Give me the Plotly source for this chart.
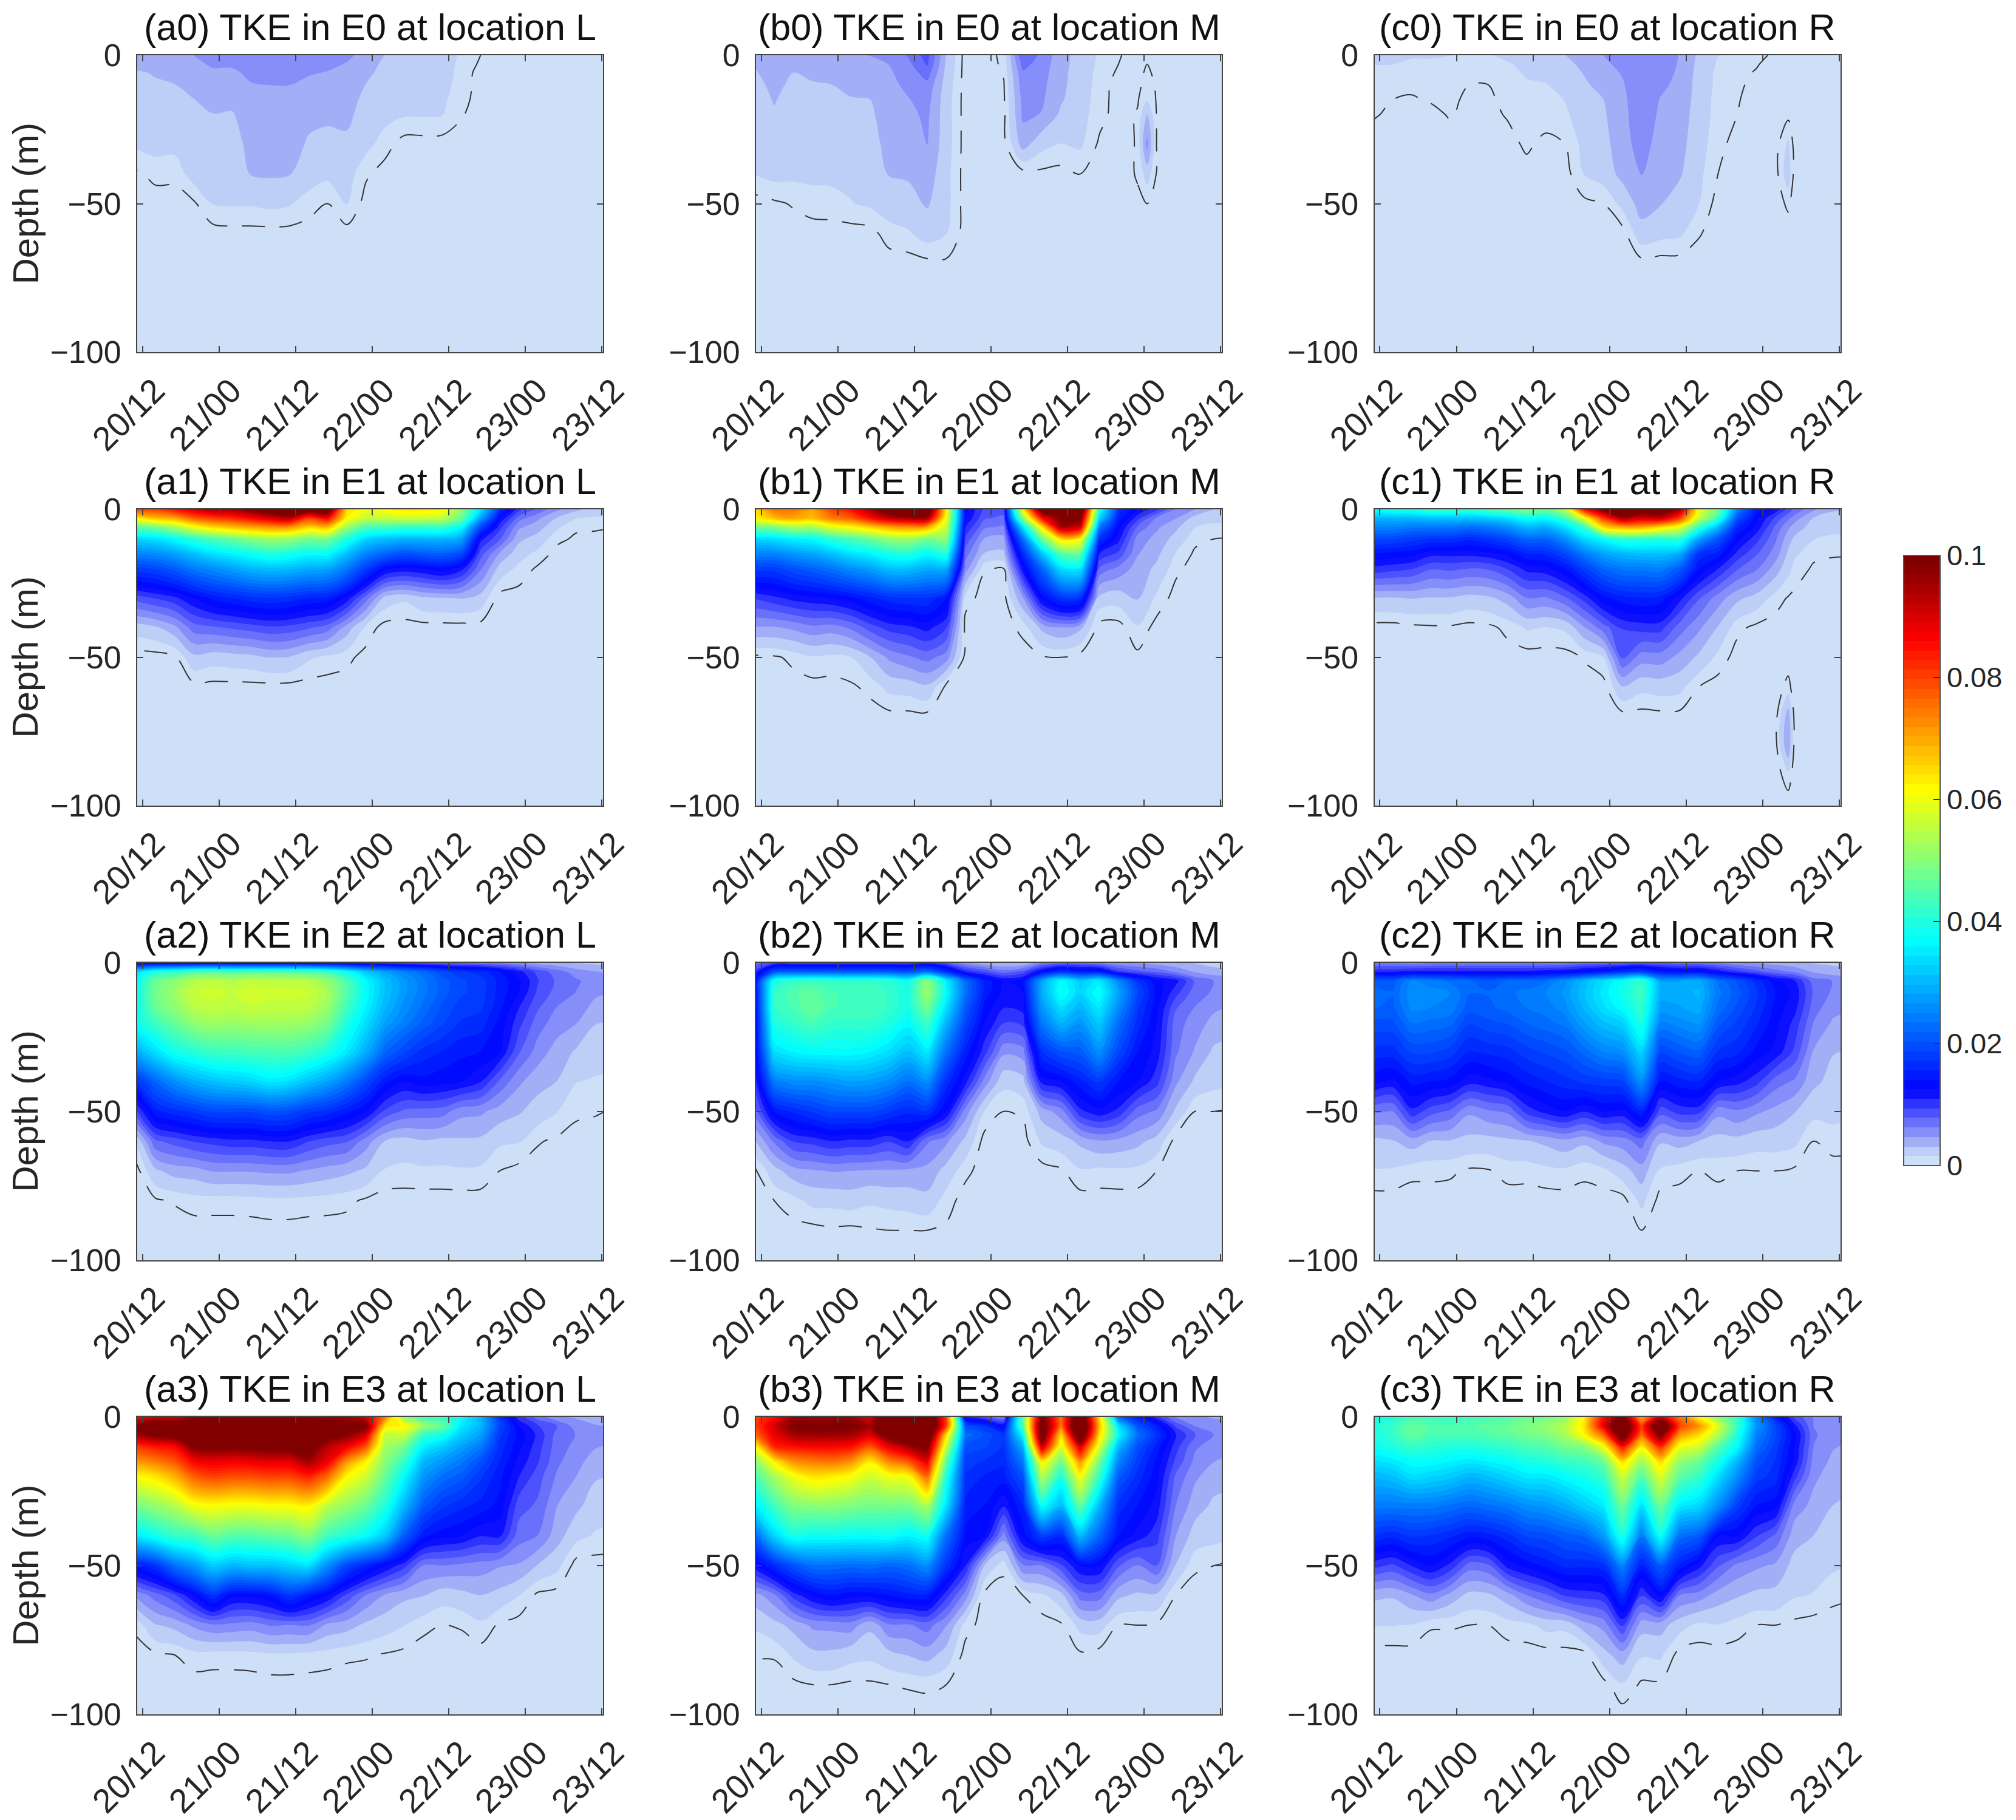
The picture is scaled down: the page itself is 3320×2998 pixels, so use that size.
import plotly.graph_objects as go

W, H = 3312, 2990   # the page adds an 8 px margin on the top and left
PAGE_MARGIN = 8
HOURS = [-1, 2, 5, 8, 11, 14, 17, 20, 23, 26, 29, 32, 35, 38, 41, 44, 47, 50, 53, 56, 59, 62, 65, 68, 71, 74]
DEPTHS = [0, -3, -6, -10, -15, -20, -30, -40, -50, -60, -70, -80, -90, -100]
TICK_HOURS = [0, 12, 24, 36, 48, 60, 72]
TICK_LABELS = ["20/12", "21/00", "21/12", "22/00", "22/12", "23/00", "23/12"]
DEPTH_TICKS = [-100, -50, 0]
DEPTH_LABELS = ["\u2212100", "\u221250", "0"]
CBAR_TICKS = [0, 0.02, 0.04, 0.06, 0.08, 0.1]
CBAR_LABELS = ["0", "0.02", "0.04", "0.06", "0.08", "0.1"]
LOW_COLORS = [(205, 224, 247), (175, 192, 246), (150, 160, 247), (122, 130, 250),
              (92, 100, 252), (65, 70, 253), (34, 38, 254), (0, 0, 255)]

# TKE profiles, one list per hour in HOURS, one value per depth in DEPTHS, in 1e-4 units
# (rows left out at the end of a profile are zero)
a0 = [[38,34,30,28,26,24,18,3],[40,36,32,30,28,26,21,8],[42,38,34,31,28,26,20,8],[47,43,39,35,31,28,25,22,3],
[56,49,44,38,34,31,26,21,16],[55,49,44,39,35,30,26,22,17,1],[58,54,50,46,42,39,35,32,17,1],[60,56,52,47,43,41,37,33,19,1],
[60,56,52,47,43,40,36,32,17,1],[58,53,48,44,38,34,30,23,10],[54,50,46,42,38,34,27,19,5],[50,46,43,41,38,35,28,22,17],
[42,38,35,31,27,25,20,7],[31,28,26,24,22,20,10],[28,26,24,22,19,17],[25,24,23,21,19,17],[22,21,21,20,18,16],[14,13,12,11,9,6],[5,3]]
b0 = [[34,32,30,28,26,24,20,16],[44,40,37,34,32,30,24,20,3],[44,38,31,29,27,26,22,19,6],[44,40,34,30,27,25,22,19,10],
[46,42,38,31,28,26,23,19,11],[46,43,40,36,30,27,23,19,15],[47,45,42,38,31,28,24,21,18,1],[52,47,45,43,41,40,37,32,24,10],
[64,58,53,50,46,43,38,33,26,14],[85,80,70,58,53,50,47,40,33,22,2],[30,28,26,24,22,22,22,20,20,16,3],[],[],
[8,7,6,4,3,2],[78,68,60,56,52,50,38],[58,55,53,51,49,46,20,2],[38,37,36,35,33,28,15,1],[24,24,23,23,22,21,18,5],
[14,13,12,11,10,9,3],[6,5,3],[0,0,0,1,4,6,6,6,3],[0,0,1,3,4,4,4,4,3]]
c0 = [[20,16,10,9,8,6],[20,16,9,7,5,3],[18,12,9,7,4,2],[18,12,10,8,6,2],[16,10,9,8,7,6],[14,10,7,5,3,2],[14,10,7,5,3,2],
[20,14,12,10,8,6,1],[24,20,17,14,12,11,7,1],[27,23,19,15,12,10,2],[31,27,24,20,16,13,5],[38,35,32,29,26,24,20,16,2],
[47,43,40,36,31,29,26,22,5],[56,52,48,45,43,42,40,36,20],[62,62,62,60,58,57,54,48,38,25,1],[60,57,54,50,46,44,40,36,32,20],
[46,45,44,43,42,40,37,33,24,18],[28,27,26,25,24,23,21,19,16,6],[16,14,12,12,11,11,9,5],[14,11,8,7,6,5],[8,6,4,2],[3]]
a1 = [[800,625,460,330,250,180,85,22],[800,680,480,340,260,190,95,28],[850,700,530,370,280,210,105,42,3],
[900,770,600,410,310,240,125,70,27,1],[950,800,650,440,340,260,145,75,22,1],[950,820,680,470,360,280,155,80,24,1],
[1000,860,700,500,380,300,165,85,26,1],[1050,900,720,520,400,310,170,90,32,1],[1100,930,720,510,390,305,165,88,30,1],
[1050,800,660,480,370,290,155,80,18],[1050,860,680,480,370,285,150,70,12],[650,620,520,400,310,240,120,40,8],
[600,560,440,330,250,180,70,12,1],[620,560,430,310,220,130,25],[640,570,420,300,200,120,18],[640,560,420,300,210,125,28],
[630,550,420,300,215,135,30],[500,470,370,280,190,115,32],[350,280,190,115,85,65,25],[170,125,100,80,45,25],
[100,70,50,35,22,12],[75,50,38,24,12,3],[50,30,18,8,1],[35,16,7,3],[24,14,6,3],[22,13,5,2]]
b1 = [[650,620,480,330,250,180,95,45,2],[750,680,490,340,250,180,105,45,3],[750,700,530,360,270,200,115,50,8],
[700,680,530,370,285,215,120,58,14,1],[800,740,590,410,310,235,125,55,12,1],[850,770,620,440,340,260,135,65,15,3],
[950,850,660,470,360,280,150,85,30,8],[1050,920,700,510,390,310,165,100,50,20,1],[1100,950,720,520,400,310,170,105,60,22,1],
[1100,950,700,480,370,290,170,115,68,28,1],[620,600,560,500,400,290,140,95,55,1],[130,125,110,90,70,55,10],
[90,80,65,45,30,6],[85,75,60,42,28,5],[620,500,340,230,160,120,45,8],[1050,850,640,470,310,220,130,35,3],
[1150,1000,950,650,450,340,170,45,5],[1100,1000,900,620,460,350,165,35],[400,330,240,170,110,75,25],
[170,150,130,115,90,58,22],[125,100,75,55,48,40,32,14,2],[100,60,50,42,35,28,13],[62,48,35,25,15,8],[47,25,16,8,3],
[31,20,12,5],[31,20,12,5]]
c1 = [[380,300,250,190,140,105,30],[400,300,250,190,135,100,30],[400,300,240,180,130,95,32,2],[430,310,240,170,115,80,30,3],
[430,310,240,170,115,82,30,3],[420,310,230,160,115,78,25,1],[450,320,240,170,120,80,28,2],[470,340,260,190,130,95,38,8],
[500,380,300,220,155,115,62,17],[480,370,290,220,160,120,60,15],[550,430,340,260,190,140,75,18],[850,600,420,330,240,180,100,45,6],
[1000,800,650,370,280,220,135,70,15],[1100,950,700,410,300,240,150,95,80,30],[1050,900,700,410,310,240,155,100,55,20],
[1050,920,650,400,310,245,150,100,55,22,1],[950,800,590,410,290,210,115,70,42,20,1],[600,560,420,280,170,140,80,50,28,5],
[480,420,300,200,150,110,55,30,12],[250,200,160,130,105,80,35,8],[150,130,120,100,80,65,25,2],[120,90,75,65,55,40,10],
[75,55,40,28,18,12,2],[50,30,24,16,8,3],[33,26,20,13,6,2],[33,26,20,13,6,2]]
a2 = [[100,340,370,380,380,380,290,165,90,18],[110,400,470,480,470,430,340,220,150,75,28,3],[110,420,500,520,505,470,385,260,165,85,38,6],
[110,450,540,560,545,510,405,290,175,95,40,10],[110,460,550,570,555,525,425,310,190,100,48,10],[110,450,540,560,550,520,430,320,190,105,48,10],
[110,460,555,575,560,525,435,330,190,105,48,11],[110,460,550,570,555,525,440,350,200,110,50,12,1],[110,460,550,570,555,525,440,340,195,110,50,12,1],
[110,450,545,565,550,515,425,310,175,95,45,11],[105,430,510,530,515,485,395,280,165,85,40,10],[100,380,440,450,430,400,350,240,145,80,35,8],
[95,320,365,370,360,340,290,190,125,55,28,3],[90,280,310,310,300,280,220,145,90,31,14],[85,250,270,270,260,245,190,125,75,25,12],
[80,225,240,240,230,215,165,135,72,30,13],[75,195,210,210,200,190,155,130,70,27,13],[70,175,190,190,180,170,145,125,52,29,14],
[65,165,180,180,175,165,140,110,50,28,13],[60,140,150,150,145,135,125,75,40,18,5],[50,115,128,125,110,100,80,50,33,17,1],
[40,88,95,90,80,70,55,37,24,6],[35,70,75,72,62,55,40,31,16,3],[30,55,65,62,55,48,29,16,7,1],[28,48,55,50,42,32,23,14,6],[25,42,50,46,38,31,21,12,4]]
b2 = [[70,100,130,130,125,120,115,100,70,30,2],[90,200,390,420,420,400,340,240,140,65,25,5],[90,210,420,450,440,420,360,260,160,95,40,11,1],
[90,210,430,460,470,440,370,260,175,100,45,20,1],[90,210,420,440,440,420,370,270,190,110,48,20,3],[90,210,420,430,430,420,370,280,190,105,47,22,2],
[90,210,420,430,430,420,360,275,190,105,45,18,4],[90,210,410,420,420,400,340,260,175,95,45,20,5],[90,200,380,390,390,370,310,230,160,110,43,22,5],
[100,230,500,520,480,430,350,260,170,65,42,26,5],[80,170,350,370,340,300,230,165,125,50,25,10,3],[50,110,220,230,210,190,150,115,55,27,8],
[35,90,150,150,135,125,100,55,15],[30,70,125,120,110,95,50,20,5],[30,85,130,125,115,100,55,25,7],[60,130,280,290,270,240,170,115,38,18],
[70,170,370,380,340,300,200,125,55,24,3],[70,150,320,330,300,270,210,150,105,35,14],[60,150,350,375,350,320,260,175,120,45,12],
[50,100,250,280,260,230,190,140,105,42,13],[45,85,170,190,175,165,140,125,70,36,12],[40,75,130,135,130,125,118,100,60,25,5],
[35,60,115,100,80,70,65,50,28],[30,45,75,70,62,55,45,28,5],[25,38,62,60,50,42,28,20,5],[22,35,55,55,45,38,26,18,3]]
c2 = [[60,110,210,230,220,200,165,130,65,27,15],[60,110,210,220,215,200,165,120,62,30,14],[55,115,250,260,255,235,190,145,105,40,8],
[60,115,240,260,250,230,190,140,85,30,8],[60,115,230,250,245,225,180,135,75,30,7],[60,115,220,220,210,190,155,115,50,26,3],
[60,115,210,220,215,200,160,120,60,25,4],[60,115,220,230,225,205,165,130,65,28,9],[60,115,220,240,235,220,180,145,100,30,9],
[60,120,230,250,240,230,190,155,115,35,12],[60,125,260,270,260,240,200,165,125,42,13],[70,135,300,310,300,280,225,175,110,35,8],
[70,150,340,350,340,310,250,180,125,50,12],[75,170,375,385,370,330,260,185,120,55,24],[80,180,420,430,420,400,330,260,155,70,40,20,5],
[75,150,280,290,275,250,190,140,85,33,13],[70,140,280,290,280,260,205,150,100,38,9],[70,140,290,300,290,270,215,155,100,31,5],
[60,120,230,240,230,210,170,125,52,25,8],[50,100,200,210,200,185,160,115,60,26,5],[45,85,165,175,170,160,135,100,50,22,5],
[40,70,130,140,135,130,120,70,42,22,5],[35,60,110,120,115,105,90,60,32,19,3],[30,45,70,75,70,62,45,35,20,5],[28,38,62,60,52,45,32,26,20,10],[25,35,58,55,48,42,30,24,18,8]]
a3 = [[850,1000,950,810,715,615,480,350,145,50,8],[900,1050,1000,840,740,640,510,385,170,70,30,3],[900,1050,1020,860,780,690,540,420,230,90,36,5],
[950,1080,1050,990,860,770,600,430,270,125,50,11],[950,1100,1060,1000,880,800,610,470,320,170,60,10],[950,1100,1070,1000,870,790,600,450,300,130,58,10],
[950,1100,1080,1000,880,790,600,450,310,130,55,11],[950,1100,1080,1020,890,800,610,460,310,140,64,13,1],[950,1100,1080,1020,890,800,610,470,325,175,62,13,1],
[950,1100,1070,1030,950,830,625,500,340,145,64,11,1],[950,1050,1020,930,880,760,550,430,260,125,43,10],[950,1000,980,875,720,620,510,400,190,90,38,7],
[900,1000,900,780,625,570,470,370,155,62,28,6],[750,640,560,530,500,470,400,320,125,45,22,4],[500,620,560,480,420,370,300,210,100,35,16,2],
[430,520,420,360,300,270,210,145,62,32,8],[420,470,390,320,270,230,175,130,62,22,5],[370,350,320,280,240,210,160,125,58,26,6],
[300,300,280,240,200,175,150,110,55,31,13],[170,190,175,165,155,145,135,112,48,26,3],[100,125,135,130,120,110,85,70,45,16],
[70,95,105,100,95,85,75,62,30,2],[50,78,72,70,66,60,47,38,20],[45,55,62,58,52,47,35,20],[40,48,52,48,40,33,23,14],[38,45,48,44,38,31,21,12]]
b3 = [[800,800,760,610,500,440,350,220,120,40,18,6],[850,900,880,830,630,530,430,330,160,58,26,6],[950,990,950,850,720,600,490,390,200,100,36,18,2],
[950,1000,960,860,740,640,500,380,230,125,50,27,5],[950,1000,960,860,750,630,500,380,230,140,52,27,5],[950,1000,950,850,720,610,490,375,225,130,55,21,3],
[900,950,900,780,630,570,480,375,230,130,35,19,3],[1050,1100,1020,880,730,600,480,380,220,140,60,26,5],[1100,1150,1100,950,780,610,480,360,230,150,60,32,6],
[1100,1150,1100,1000,880,760,530,380,260,150,70,38,7],[800,800,650,560,460,400,340,230,170,100,48,24,5],[110,200,230,200,180,170,150,135,110,55,10],
[85,170,200,190,170,155,140,125,30],[62,125,170,170,160,150,110,55,8],[450,450,370,290,240,200,155,130,60,5],[1000,1050,1050,920,630,540,375,180,62,13],
[750,750,650,580,480,400,300,160,90,25,3],[1100,1150,1100,900,720,610,460,300,125,70,20,3],[650,680,650,580,480,420,300,220,125,70,22],
[220,340,370,300,250,210,165,140,80,35,5],[150,200,230,200,180,165,140,118,62,28,5],[100,150,170,150,135,130,118,100,78,28,3],
[60,90,110,100,90,75,62,47,30,5],[50,62,80,65,58,50,38,24,7],[45,55,62,55,47,38,28,20,5],[42,52,58,50,44,36,26,18,3]]
c3 = [[390,400,390,380,340,300,240,170,100,35,16],[400,420,420,400,350,310,240,160,90,33,16],[430,470,470,420,370,340,240,175,110,45,15],
[430,450,440,410,370,330,240,170,125,58,6],[420,440,440,400,360,320,230,160,105,42,6],[430,450,440,400,350,300,220,145,70,26,5],
[440,460,450,410,360,310,230,150,75,28,5],[450,470,460,420,370,330,240,165,115,40,10],[470,490,480,440,390,350,260,190,130,62,12],
[480,510,490,450,400,350,270,195,145,75,20],[510,540,530,480,420,370,290,210,160,95,20],[620,640,620,500,430,390,320,220,160,100,40],
[850,880,760,600,470,420,350,270,165,105,52,25],[1000,1100,1050,850,650,570,470,400,250,165,95,40,14],[700,800,760,630,520,450,340,240,150,95,38,17,3],
[900,1100,1000,820,650,580,470,380,210,130,38,18,3],[750,800,720,600,510,460,350,230,150,62,22],[620,720,650,570,470,420,330,210,115,55,12],
[500,580,540,450,390,340,260,125,80,40,15],[420,420,400,370,300,260,180,125,58,33,10],[250,270,250,230,200,180,140,95,50,27,5],
[150,190,190,180,170,165,130,75,44,26,5],[90,115,130,125,120,100,55,38,25,17,2],[62,62,65,62,55,50,42,31,20,15],[50,50,52,48,44,40,31,24,18,8],[45,45,48,44,40,36,28,22,16,6]]

# narrow lenses that fall between the regular hours: hour -> profile
EXTRA = {
    "b0": (60.5, [2, 5, 8, 11, 14, 31, 52, 22, 5]),
    "c0": (64, [0, 0, 0, 0, 0, 2, 18, 24, 7]),
    "c1": (64, [90, 66, 50, 38, 28, 20, 4, 0, 0, 8, 40, 45, 10]),
}
PANELS = [["a0", "b0", "c0"], ["a1", "b1", "c1"], ["a2", "b2", "c2"], ["a3", "b3", "c3"]]
DATA = dict(a0=a0, b0=b0, c0=c0, a1=a1, b1=b1, c1=c1, a2=a2, b2=b2, c2=c2, a3=a3, b3=b3, c3=c3)
LOCATIONS = {"a": "L", "b": "M", "c": "R"}
UNIT = 1e-4
DASH_LEVEL = 0.0005
N_BANDS = 64

# pixel boxes in the final picture
X_BOX = {"a": (226, 993), "b": (1245, 2012), "c": (2263.5, 3031)}
Y_BOX = [(91, 580), (839, 1326.5), (1586, 2075.5), (2334, 2824)]
TEXT = "#262626"
FONT = "Liberation Sans, Arial, Helvetica, sans-serif"


def fx(px):
    return (px - PAGE_MARGIN) / W


def fy(px):
    return 1 - (px - PAGE_MARGIN) / H


def jet_row(i):
    if i < 8:
        return LOW_COLORS[i]
    g = (i - 7) / 16 if i < 24 else 1 if i < 40 else 1 - (i - 39) / 16 if i < 56 else 0
    r = 0 if i < 24 else (i - 23) / 16 if i < 40 else 1 if i < 56 else 1 - (i - 55) / 16
    b = 1 if i < 24 else 1 - (i - 23) / 16 if i < 40 else 0
    return tuple(round(255 * c) for c in (r, g, b))


def colorscale():
    stops = [[0, "rgb(%d,%d,%d)" % jet_row(0)]]
    for i in range(N_BANDS):
        stops.append([(i + 1) / (N_BANDS + 1), "rgb(%d,%d,%d)" % jet_row(i)])
    stops.append([1, "rgb(%d,%d,%d)" % jet_row(N_BANDS - 1)])
    return stops


def grid(name):
    cols = [list(c) + [0] * (len(DEPTHS) - len(c)) for c in DATA[name]]
    cols += [[0] * len(DEPTHS)] * (len(HOURS) - len(cols))
    hours = list(HOURS)
    if name in EXTRA:
        h, p = EXTRA[name]
        k = sum(1 for t in hours if t < h)
        hours.insert(k, h)
        cols.insert(k, list(p) + [0] * (len(DEPTHS) - len(p)))
    z = [[cols[j][i] * UNIT for j in range(len(hours))] for i in range(len(DEPTHS) - 1, -1, -1)]
    return hours, DEPTHS[::-1], z


fig = go.Figure()
annotations = []
layout = {}
n = 0
first = True
for r, row in enumerate(PANELS):
    for name in row:
        n += 1
        col = name[0]
        xa = "xaxis%d" % n
        ya = "yaxis%d" % n
        x0, x1 = X_BOX[col]
        y0, y1 = Y_BOX[r]
        hours, ys, z = grid(name)
        xref, yref = "x%d" % n, "y%d" % n
        fig.add_trace(go.Contour(
            x=hours, y=ys, z=z, xaxis=xref, yaxis=yref,
            autocontour=False, zmin=0, zmax=0.1,
            contours=dict(start=0, end=0.1, size=0.1 / N_BANDS, coloring="fill", showlines=False),
            line=dict(width=0), colorscale=colorscale(), showscale=first,
            colorbar=dict(
                x=fx(3135), xanchor="left", xpad=0, ypad=0,
                y=fy(1920), yanchor="bottom", len=1005 / H, lenmode="fraction",
                thickness=60, thicknessmode="pixels",
                tickmode="array", tickvals=CBAR_TICKS, ticktext=CBAR_LABELS,
                ticks="inside", ticklen=12, tickcolor="#333333", tickwidth=2,
                outlinecolor="#555555", outlinewidth=2, ticklabelposition="outside",
                tickfont=dict(family=FONT, size=47, color=TEXT),
            ),
            hoverinfo="skip",
        ))
        first = False
        fig.add_trace(go.Contour(
            x=hours, y=ys, z=z, xaxis=xref, yaxis=yref,
            autocontour=False, showscale=False,
            contours=dict(start=DASH_LEVEL, end=DASH_LEVEL, size=1, coloring="none"),
            line=dict(color="#333333", width=2, dash="38px,24px"),
            hoverinfo="skip",
        ))
        common = dict(showline=True, mirror="allticks", linecolor="#444444", linewidth=2, ticks="inside",
                      ticklen=10, tickwidth=2, tickcolor="#444444", showgrid=False, zeroline=False)
        layout[xa] = dict(domain=[fx(x0), fx(x1)], anchor="y%d" % n, range=[-0.85, 72.2],
                          tickmode="array", tickvals=TICK_HOURS, ticktext=TICK_LABELS,
                          tickangle=-45, ticklabelshift=20, ticklabelstandoff=6,
                          tickfont=dict(family=FONT, size=56, color=TEXT), **common)
        layout[ya] = dict(domain=[fy(y1), fy(y0)], anchor="x%d" % n, range=[-100, 0],
                          tickmode="array", tickvals=DEPTH_TICKS, ticktext=DEPTH_LABELS,
                          ticklabelstandoff=14, tickfont=dict(family=FONT, size=52, color=TEXT), **common)
        annotations.append(dict(
            text="(%s) TKE in E%s at location %s" % (name, name[1], LOCATIONS[col]),
            xref="paper", yref="paper", x=fx((x0 + x1) / 2), y=fy(y0 - 10),
            xanchor="center", yanchor="bottom", showarrow=False,
            font=dict(family=FONT, size=61, color="#111111"),
        ))
    annotations.append(dict(
        text="Depth (m)", xref="paper", yref="paper", x=fx(42), y=fy((Y_BOX[r][0] + Y_BOX[r][1]) / 2),
        xanchor="center", yanchor="middle", showarrow=False, textangle=-90,
        font=dict(family=FONT, size=60, color=TEXT),
    ))

fig.update_layout(
    width=W, height=H, margin=dict(l=0, r=0, t=0, b=0, autoexpand=False),
    paper_bgcolor="white", plot_bgcolor="rgb(205,224,247)", showlegend=False,
    annotations=annotations, font=dict(family=FONT, color=TEXT), **layout,
)
fig.write_html("out.html")
